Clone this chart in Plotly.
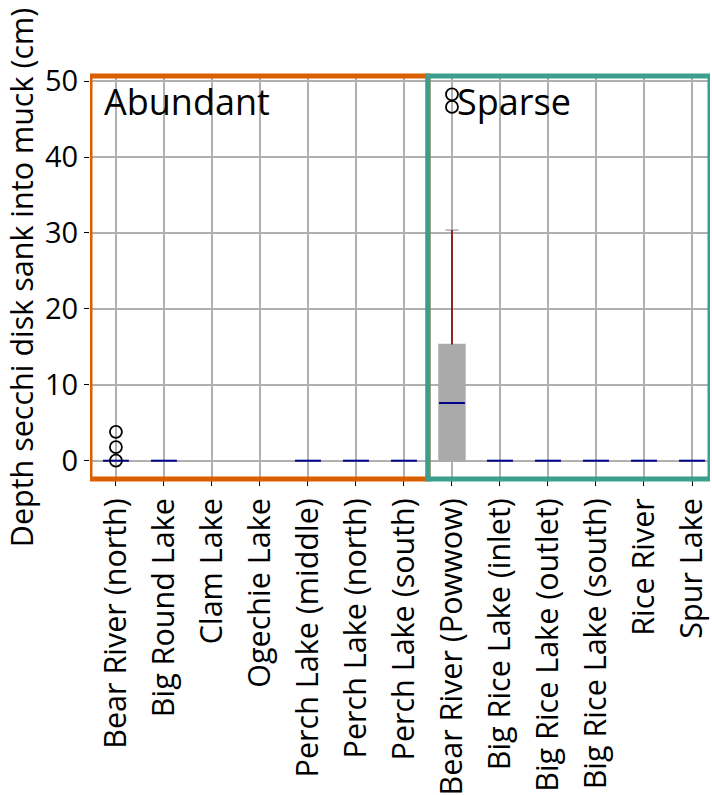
import plotly.graph_objects as go

# Sites in plotting order (first seven: abundant rice, last six: sparse rice)
sites = [
    "Bear River (north)", "Big Round Lake", "Clam Lake", "Ogechie Lake",
    "Perch Lake (middle)", "Perch Lake (north)", "Perch Lake (south)",
    "Bear River (Powwow)", "Big Rice Lake (inlet)", "Big Rice Lake (outlet)",
    "Big Rice Lake (south)", "Rice River", "Spur Lake",
]

# Box statistics for sites with measurements (index into sites)
box_idx = [0, 1, 4, 5, 6, 7, 8, 9, 10, 11, 12]
q1 = [0, 0, 0, 0, 0, 0, 0, 0, 0, 0, 0]
median = [0, 0, 0, 0, 0, 7.6, 0, 0, 0, 0, 0]
q3 = [0, 0, 0, 0, 0, 15.3, 0, 0, 0, 0, 0]
lower = [0, 0, 0, 0, 0, 0, 0, 0, 0, 0, 0]
upper = [0, 0, 0, 0, 0, 30.4, 0, 0, 0, 0, 0]

# Outlying observations
out_idx = [0, 0, 0, 7, 7]
out_val = [0.0, 1.8, 3.8, 46.6, 48.27]

# Group labels
groups = ["Abundant", "Sparse"]
group_split = 7  # first sparse site

ORANGE = "#d95f02"
TEAL = "#3b9e8e"
BOX_W = 0.54
FONT = "Open Sans"

fig = go.Figure()

fig.add_trace(go.Box(
    x=box_idx, q1=q1, median=median, q3=q3,
    lowerfence=lower, upperfence=upper,
    width=BOX_W, whiskerwidth=0.5,
    fillcolor="#aaaaaa", line=dict(color="#aaaaaa", width=1.5),
    boxpoints=False, hoverinfo="skip", showlegend=False,
))

# Whiskers (q3 -> upper fence) in dark red
wx, wy = [], []
for i, a, b in zip(box_idx, q3, upper):
    if b > a:
        wx += [i, i, None]
        wy += [a, b, None]
fig.add_trace(go.Scatter(x=wx, y=wy, mode="lines",
                         line=dict(color="#8b0000", width=1.6),
                         hoverinfo="skip", showlegend=False))

# Median bars in dark blue
mx, my = [], []
for i, m in zip(box_idx, median):
    mx += [i - BOX_W / 2, i + BOX_W / 2, None]
    my += [m, m, None]
fig.add_trace(go.Scatter(x=mx, y=my, mode="lines",
                         line=dict(color="#00008b", width=2),
                         hoverinfo="skip", showlegend=False))

fig.add_trace(go.Scatter(
    x=out_idx, y=out_val, mode="markers",
    marker=dict(symbol="circle-open", size=12, color="black",
                line=dict(width=1.8, color="black")),
    cliponaxis=False, hoverinfo="skip", showlegend=False,
))

# Group frames
fig.add_shape(type="rect", xref="x", yref="paper",
              x0=-0.54, x1=group_split - 0.5, y0=0, y1=1,
              line=dict(color=ORANGE, width=5), layer="above")
fig.add_shape(type="rect", xref="x", yref="paper",
              x0=group_split - 0.5, x1=12.375, y0=0, y1=1,
              line=dict(color=TEAL, width=5), layer="above")

plot_top, plot_bot = 75.5, 479
label_y = (plot_bot - 101.5) / (plot_bot - plot_top)
fig.add_annotation(x=-0.28, y=label_y, xref="x", yref="paper", text=groups[0],
                   showarrow=False, xanchor="left", yanchor="middle",
                   font=dict(family=FONT, size=36, color="black"))
fig.add_annotation(x=group_split - 0.5 + 0.56, y=label_y, xref="x", yref="paper",
                   text=groups[1], showarrow=False, xanchor="left",
                   yanchor="middle",
                   font=dict(family=FONT, size=36, color="black"))

fig.update_layout(
    width=712, height=795,
    margin=dict(l=90, r=2, t=76, b=316),
    plot_bgcolor="white", paper_bgcolor="white",
    xaxis=dict(
        range=[-0.54, 12.375], tickmode="array",
        tickvals=list(range(len(sites))), ticktext=sites, tickangle=-90,
        showgrid=True, gridcolor="#b0b0b0", gridwidth=1.5,
        ticks="outside", ticklen=6, tickcolor="black",
        tickfont=dict(family=FONT, size=30.5, color="black"),
        zeroline=False, showline=False, automargin=False,
    ),
    yaxis=dict(
        range=[-2.41, 50.68], tickvals=[0, 10, 20, 30, 40, 50],
        showgrid=True, gridcolor="#b0b0b0", gridwidth=1.5,
        ticks="outside", ticklen=5, tickcolor="black",
        tickfont=dict(family=FONT, size=29, color="black"),
        title=dict(text="Depth secchi disk sank into muck (cm)",
                   font=dict(family=FONT, size=30.5, color="black"),
                   standoff=10),
        zeroline=False, showline=False, automargin=False,
    ),
)

fig.write_html("out.html")
